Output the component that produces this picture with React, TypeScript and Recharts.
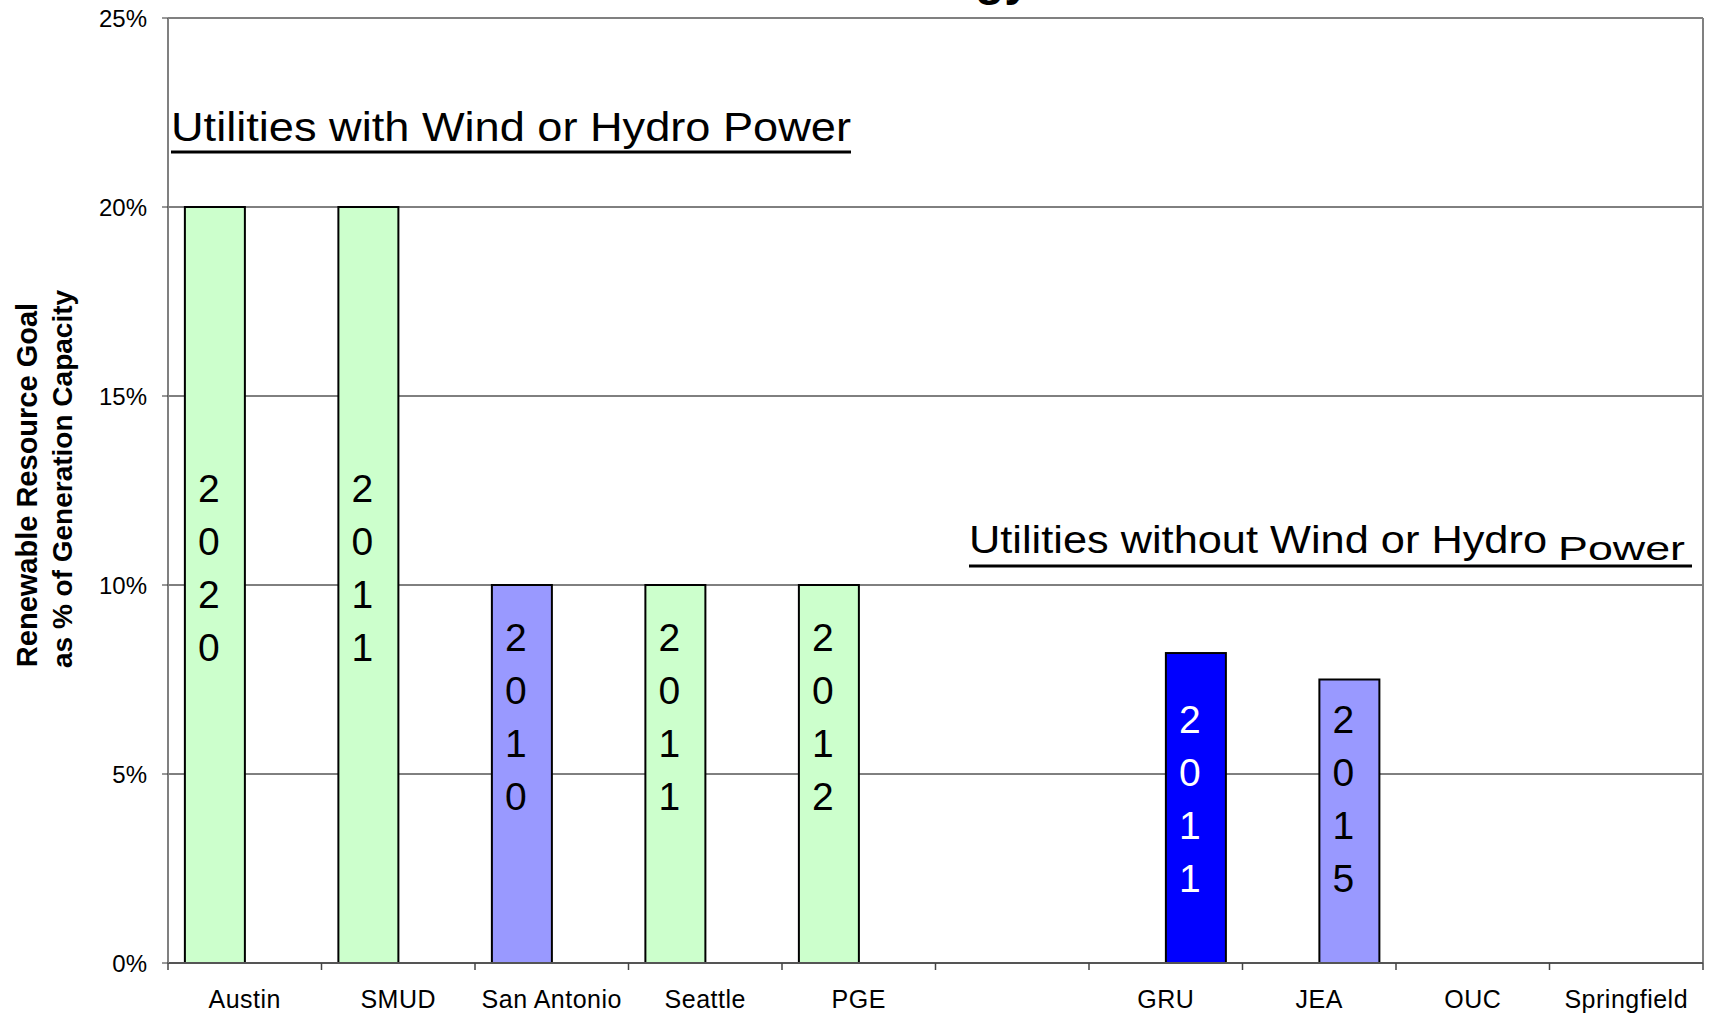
import React from 'react';
import { BarChart, Bar, XAxis, YAxis, CartesianGrid, ReferenceLine } from 'recharts';

const categories = ['Austin', 'SMUD', 'San Antonio', 'Seattle', 'PGE', '', 'GRU', 'JEA', 'OUC', 'Springfield'];
const withWindHydro = [20, 20, 10, 10, 10, null, null, null, null, null];
const withoutWindHydro = [null, null, null, null, null, null, 8.2, 7.5, null, null];
const goalYears = ['2020', '2011', '2010', '2011', '2012', '', '2011', '2015', '', ''];
const yTicks = [0, 5, 10, 15, 20, 25];

// styling per bar
const barFills = ['#ccffcc', '#ccffcc', '#9999ff', '#ccffcc', '#ccffcc', 'none', '#0000ff', '#9999ff', 'none', 'none'];
const yearColors = ['#000', '#000', '#000', '#000', '#000', '#000', '#fff', '#000', '#000', '#000'];
const yearShift = [-18, -18, -58, -58, -58, 0, -10, -23, 0, 0];

const FONT = '"Liberation Sans", Arial, Helvetica, sans-serif';
const W = 1709;
const H = 1016;
const MARGIN = { top: 18, right: 6, bottom: 0, left: 0 };
const Y_AXIS_W = 168;
const PLOT_W = W - MARGIN.left - MARGIN.right - Y_AXIS_W;

const data = categories.map((name, i) => ({
  name,
  idx: i,
  withWind: withWindHydro[i],
  withoutWind: withoutWindHydro[i],
}));

const GoalBar = (props: any) => {
  const { x, y, width, height, index } = props;
  if (!height || height <= 0 || isNaN(height)) return null;
  const i = props.payload?.idx ?? index;
  const cx = x + width / 2 - 6;
  const mid = y + height / 2 + yearShift[i];
  const firstBase = mid - 65.5;
  const digits = goalYears[i].split('');
  return (
    <g>
      <rect x={x} y={y} width={width} height={height} fill={barFills[i]} stroke="#000" strokeWidth={2} />
      <text fontFamily={FONT} fontSize={39} fill={yearColors[i]} textAnchor="middle">
        {digits.map((d, k) => (
          <tspan key={k} x={cx} y={firstBase + k * 53}>{d}</tspan>
        ))}
      </text>
    </g>
  );
};

const CategoryTick = (props: any) => {
  const { x, y, payload, index } = props;
  const half = PLOT_W / categories.length / 2;
  const i = payload?.index ?? index;
  return (
    <g>
      <line x1={x - half} x2={x - half} y1={y} y2={y + 7} stroke="#444" strokeWidth={1.5} />
      {i === categories.length - 1 && (
        <line x1={x + half} x2={x + half} y1={y} y2={y + 7} stroke="#444" strokeWidth={1.5} />
      )}
      <text x={x} y={y + 45} textAnchor="middle" fontSize={25} letterSpacing={0.5} fill="#000" fontFamily={FONT}>
        {payload.value}
      </text>
    </g>
  );
};

const App: React.FC = () => {
  return (
    <div style={{ position: 'absolute', left: 0, top: 0, width: W, height: H, background: '#fff', fontFamily: FONT }}>
      <BarChart
        width={W}
        height={H}
        data={data}
        margin={MARGIN}
        barCategoryGap="11%"
        barGap={0}
      >
        <CartesianGrid vertical={false} stroke="#000" strokeWidth={1} />
        <XAxis
          dataKey="name"
          height={53}
          interval={0}
          tickSize={0}
          tickMargin={0}
          tickLine={false}
          axisLine={{ stroke: '#555', strokeWidth: 2 }}
          tick={<CategoryTick />}
        />
        <YAxis
          width={Y_AXIS_W}
          domain={[0, 25]}
          ticks={yTicks}
          interval={0}
          tickSize={6}
          tickMargin={15}
          tickFormatter={(v: number) => `${v}%`}
          tick={{ fontSize: 24, fill: '#000', fontFamily: FONT }}
          tickLine={{ stroke: '#333' }}
          axisLine={{ stroke: '#808080', strokeWidth: 2 }}
        />
        <ReferenceLine y={25} stroke="#808080" strokeWidth={2} />
        <ReferenceLine x="Springfield" position="end" stroke="#808080" strokeWidth={2} />
        <Bar dataKey="withWind" shape={GoalBar} isAnimationActive={false} />
        <Bar dataKey="withoutWind" shape={GoalBar} isAnimationActive={false} />
      </BarChart>
      <svg
        width={W}
        height={H}
        style={{ position: 'absolute', left: 0, top: 0, pointerEvents: 'none' }}
        fontFamily={FONT}
      >
        {/* chart title, cut off at the top of the page like the original */}
        <text x={1031} y={-5} textAnchor="end" fontSize={48} fontWeight="bold" fill="#000">
          Renewable Energy
        </text>
        <g transform="translate(37, 485) rotate(-90)">
          <text x={0} y={0} textAnchor="middle" fontSize={29} fontWeight="bold" fill="#000">
            Renewable Resource Goal
          </text>
        </g>
        <g transform="translate(72, 479) rotate(-90)">
          <text x={0} y={0} textAnchor="middle" fontSize={28} fontWeight="bold" fill="#000">
            as % of Generation Capacity
          </text>
        </g>

        <text x={171} y={141} fontSize={40} fill="#000" textLength={680} lengthAdjust="spacingAndGlyphs">
          Utilities with Wind or Hydro Power
        </text>
        <line x1={171} x2={851} y1={152} y2={152} stroke="#000" strokeWidth={3} />

        <text x={969} y={553} fontSize={38} fill="#000" textLength={578} lengthAdjust="spacingAndGlyphs">
          Utilities without Wind or Hydro
        </text>
        <text x={1558} y={560} fontSize={33} fill="#000" textLength={127} lengthAdjust="spacingAndGlyphs">
          Power
        </text>
        <line x1={969} x2={1692} y1={566} y2={566} stroke="#000" strokeWidth={3} />
      </svg>
    </div>
  );
};

export default App;
